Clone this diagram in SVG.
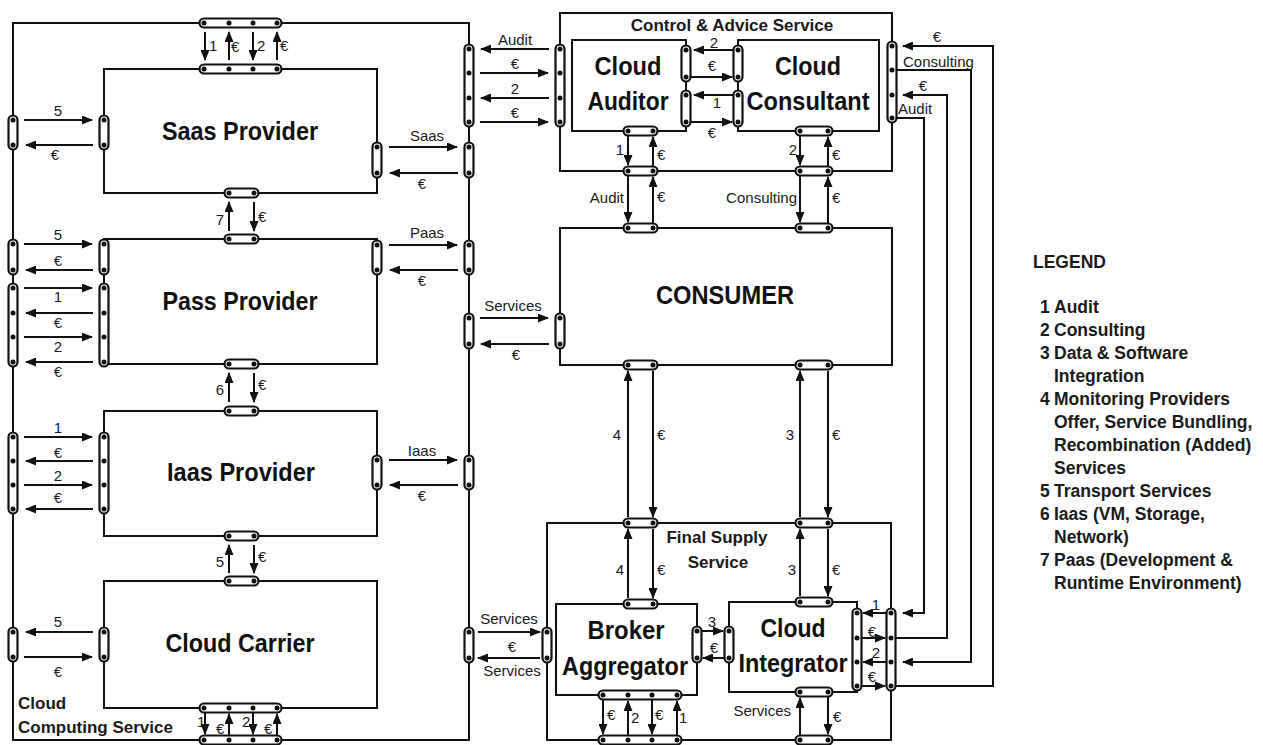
<svg xmlns="http://www.w3.org/2000/svg" width="1263" height="745" viewBox="0 0 1263 745">
<defs>
<marker id="ah" markerUnits="userSpaceOnUse" markerWidth="11" markerHeight="9" refX="10" refY="4.5" orient="auto">
<path d="M0,0 L11,4.5 L0,9 z" fill="#111"/>
</marker>
<style>
.box{fill:none;stroke:#111;stroke-width:2}
.pill{fill:#fff;stroke:#111;stroke-width:2.2}
.dot{fill:#111}
.ln{fill:none;stroke:#111;stroke-width:2}
.ar{fill:none;stroke:#111;stroke-width:2;marker-end:url(#ah)}
text{font-family:"Liberation Sans",Arial,sans-serif;fill:#1a1a1a}
.t{font-size:15px}
.m{text-anchor:middle}
.e{text-anchor:end}
.big{font-size:25px;font-weight:bold;text-anchor:middle;fill:#111}
.sec{font-size:17px;font-weight:bold}
.lg{font-size:17.5px;font-weight:bold}
</style>
</defs>
<rect width="1263" height="745" fill="#fff"/>

<g id="cloud-computing-service">
<rect class="box" x="13" y="23" width="456" height="717"/>
<text class="sec" x="18" y="709">Cloud</text>
<text class="sec" x="18" y="733">Computing Service</text>
<rect class="pill" x="199.5" y="18.5" width="82" height="9" rx="4.5"/>
<rect class="pill" x="199.5" y="735.5" width="82" height="9" rx="4.5"/>
<rect class="pill" x="8.5" y="115.5" width="9" height="34" rx="4.5"/>
<rect class="pill" x="8.5" y="239.5" width="9" height="35" rx="4.5"/>
<rect class="pill" x="8.5" y="283.5" width="9" height="83" rx="4.5"/>
<rect class="pill" x="8.5" y="432.5" width="9" height="81" rx="4.5"/>
<rect class="pill" x="8.5" y="627.5" width="9" height="34" rx="4.5"/>
<rect class="pill" x="464.5" y="44.5" width="9" height="82" rx="4.5"/>
<rect class="pill" x="464.5" y="142.5" width="9" height="35" rx="4.5"/>
<rect class="pill" x="464.5" y="240.5" width="9" height="34" rx="4.5"/>
<rect class="pill" x="464.5" y="313.5" width="9" height="35" rx="4.5"/>
<rect class="pill" x="464.5" y="455.5" width="9" height="34" rx="4.5"/>
<rect class="pill" x="464.5" y="627.5" width="9" height="35" rx="4.5"/>
<g class="dot">
<circle cx="204" cy="23" r="2.5"/><circle cx="229" cy="23" r="2.5"/><circle cx="253" cy="23" r="2.5"/><circle cx="277" cy="23" r="2.5"/>
<circle cx="204" cy="740" r="2.5"/><circle cx="229" cy="740" r="2.5"/><circle cx="253" cy="740" r="2.5"/><circle cx="277" cy="740" r="2.5"/>
<circle cx="13" cy="120" r="2.5"/><circle cx="13" cy="145" r="2.5"/>
<circle cx="13" cy="244" r="2.5"/><circle cx="13" cy="270" r="2.5"/>
<circle cx="13" cy="288" r="2.5"/><circle cx="13" cy="313" r="2.5"/><circle cx="13" cy="337" r="2.5"/><circle cx="13" cy="362" r="2.5"/>
<circle cx="13" cy="437" r="2.5"/><circle cx="13" cy="461" r="2.5"/><circle cx="13" cy="485" r="2.5"/><circle cx="13" cy="509" r="2.5"/>
<circle cx="13" cy="632" r="2.5"/><circle cx="13" cy="657" r="2.5"/>
<circle cx="469" cy="49" r="2.5"/><circle cx="469" cy="73" r="2.5"/><circle cx="469" cy="98" r="2.5"/><circle cx="469" cy="122" r="2.5"/>
<circle cx="469" cy="147" r="2.5"/><circle cx="469" cy="173" r="2.5"/>
<circle cx="469" cy="245" r="2.5"/><circle cx="469" cy="270" r="2.5"/>
<circle cx="469" cy="318" r="2.5"/><circle cx="469" cy="344" r="2.5"/>
<circle cx="469" cy="460" r="2.5"/><circle cx="469" cy="485" r="2.5"/>
<circle cx="469" cy="632" r="2.5"/><circle cx="469" cy="658" r="2.5"/>
</g>
</g>

<g id="saas-provider">
<rect class="box" x="104" y="69" width="273" height="124"/>
<text class="big" x="240" y="140" textLength="156" lengthAdjust="spacingAndGlyphs">Saas Provider</text>
<rect class="pill" x="199.5" y="64.5" width="82" height="9" rx="4.5"/>
<rect class="pill" x="99.5" y="115.5" width="9" height="34" rx="4.5"/>
<rect class="pill" x="372.5" y="142.5" width="9" height="35" rx="4.5"/>
<rect class="pill" x="224.5" y="188.5" width="34" height="9" rx="4.5"/>
<g class="dot">
<circle cx="204" cy="69" r="2.5"/><circle cx="229" cy="69" r="2.5"/><circle cx="253" cy="69" r="2.5"/><circle cx="277" cy="69" r="2.5"/>
<circle cx="104" cy="120" r="2.5"/><circle cx="104" cy="145" r="2.5"/>
<circle cx="377" cy="147" r="2.5"/><circle cx="377" cy="173" r="2.5"/>
<circle cx="229" cy="193" r="2.5"/><circle cx="254" cy="193" r="2.5"/>
</g>
</g>

<g id="pass-provider">
<rect class="box" x="104" y="239" width="273" height="125"/>
<text class="big" x="240" y="310" textLength="155" lengthAdjust="spacingAndGlyphs">Pass Provider</text>
<rect class="pill" x="224.5" y="234.5" width="34" height="9" rx="4.5"/>
<rect class="pill" x="99.5" y="239.5" width="9" height="35" rx="4.5"/>
<rect class="pill" x="99.5" y="283.5" width="9" height="83" rx="4.5"/>
<rect class="pill" x="372.5" y="240.5" width="9" height="34" rx="4.5"/>
<rect class="pill" x="224.5" y="359.5" width="34" height="9" rx="4.5"/>
<g class="dot">
<circle cx="229" cy="239" r="2.5"/><circle cx="254" cy="239" r="2.5"/>
<circle cx="104" cy="244" r="2.5"/><circle cx="104" cy="270" r="2.5"/>
<circle cx="104" cy="288" r="2.5"/><circle cx="104" cy="313" r="2.5"/><circle cx="104" cy="337" r="2.5"/><circle cx="104" cy="362" r="2.5"/>
<circle cx="377" cy="245" r="2.5"/><circle cx="377" cy="270" r="2.5"/>
<circle cx="229" cy="364" r="2.5"/><circle cx="254" cy="364" r="2.5"/>
</g>
</g>

<g id="iaas-provider">
<rect class="box" x="104" y="411" width="273" height="125"/>
<text class="big" x="241" y="481" textLength="148" lengthAdjust="spacingAndGlyphs">Iaas Provider</text>
<rect class="pill" x="224.5" y="406.5" width="34" height="9" rx="4.5"/>
<rect class="pill" x="99.5" y="432.5" width="9" height="81" rx="4.5"/>
<rect class="pill" x="372.5" y="455.5" width="9" height="34" rx="4.5"/>
<rect class="pill" x="224.5" y="531.5" width="34" height="9" rx="4.5"/>
<g class="dot">
<circle cx="229" cy="411" r="2.5"/><circle cx="254" cy="411" r="2.5"/>
<circle cx="104" cy="437" r="2.5"/><circle cx="104" cy="461" r="2.5"/><circle cx="104" cy="485" r="2.5"/><circle cx="104" cy="509" r="2.5"/>
<circle cx="377" cy="460" r="2.5"/><circle cx="377" cy="485" r="2.5"/>
<circle cx="229" cy="536" r="2.5"/><circle cx="254" cy="536" r="2.5"/>
</g>
</g>

<g id="cloud-carrier">
<rect class="box" x="104" y="581" width="273" height="127"/>
<text class="big" x="240" y="652" textLength="149" lengthAdjust="spacingAndGlyphs">Cloud Carrier</text>
<rect class="pill" x="224.5" y="576.5" width="34" height="9" rx="4.5"/>
<rect class="pill" x="99.5" y="627.5" width="9" height="34" rx="4.5"/>
<rect class="pill" x="199.5" y="703.5" width="82" height="9" rx="4.5"/>
<g class="dot">
<circle cx="229" cy="581" r="2.5"/><circle cx="254" cy="581" r="2.5"/>
<circle cx="104" cy="632" r="2.5"/><circle cx="104" cy="657" r="2.5"/>
<circle cx="204" cy="708" r="2.5"/><circle cx="229" cy="708" r="2.5"/><circle cx="253" cy="708" r="2.5"/><circle cx="277" cy="708" r="2.5"/>
</g>
</g>

<g id="control-advice-service">
<rect class="box" x="560" y="13" width="332" height="158"/>
<text class="sec" x="732" y="31" text-anchor="middle">Control &amp; Advice Service</text>
<rect class="pill" x="555.5" y="44.5" width="9" height="82" rx="4.5"/>
<rect class="pill" x="887.5" y="41.5" width="9" height="81" rx="4.5"/>
<rect class="pill" x="623.5" y="166.5" width="34" height="9" rx="4.5"/>
<rect class="pill" x="795.5" y="166.5" width="37" height="9" rx="4.5"/>
<g class="dot">
<circle cx="560" cy="49" r="2.5"/><circle cx="560" cy="73" r="2.5"/><circle cx="560" cy="98" r="2.5"/><circle cx="560" cy="122" r="2.5"/>
<circle cx="892" cy="46" r="2.5"/><circle cx="892" cy="70" r="2.5"/><circle cx="892" cy="95" r="2.5"/><circle cx="892" cy="118" r="2.5"/>
<circle cx="628" cy="171" r="2.5"/><circle cx="653" cy="171" r="2.5"/>
<circle cx="800" cy="171" r="2.5"/><circle cx="828" cy="171" r="2.5"/>
</g>
</g>

<g id="cloud-auditor">
<rect class="box" x="572" y="40" width="114" height="91"/>
<text class="big" x="628" y="75" textLength="67" lengthAdjust="spacingAndGlyphs">Cloud</text>
<text class="big" x="628" y="110" textLength="81" lengthAdjust="spacingAndGlyphs">Auditor</text>
<rect class="pill" x="681.5" y="45.5" width="9" height="36" rx="4.5"/>
<rect class="pill" x="681.5" y="90.5" width="9" height="36" rx="4.5"/>
<rect class="pill" x="623.5" y="126.5" width="34" height="9" rx="4.5"/>
<g class="dot">
<circle cx="686" cy="50" r="2.5"/><circle cx="686" cy="77" r="2.5"/><circle cx="686" cy="95" r="2.5"/><circle cx="686" cy="122" r="2.5"/>
<circle cx="628" cy="131" r="2.5"/><circle cx="653" cy="131" r="2.5"/>
</g>
</g>

<g id="cloud-consultant">
<rect class="box" x="738" y="40" width="141" height="91"/>
<text class="big" x="808" y="75" textLength="66" lengthAdjust="spacingAndGlyphs">Cloud</text>
<text class="big" x="808" y="110" textLength="123" lengthAdjust="spacingAndGlyphs">Consultant</text>
<rect class="pill" x="733.5" y="45.5" width="9" height="36" rx="4.5"/>
<rect class="pill" x="733.5" y="90.5" width="9" height="36" rx="4.5"/>
<rect class="pill" x="795.5" y="126.5" width="37" height="9" rx="4.5"/>
<g class="dot">
<circle cx="738" cy="50" r="2.5"/><circle cx="738" cy="77" r="2.5"/><circle cx="738" cy="95" r="2.5"/><circle cx="738" cy="122" r="2.5"/>
<circle cx="800" cy="131" r="2.5"/><circle cx="828" cy="131" r="2.5"/>
</g>
</g>

<g id="consumer">
<rect class="box" x="560" y="228" width="332" height="137"/>
<text class="big" x="725" y="304" textLength="138" lengthAdjust="spacingAndGlyphs">CONSUMER</text>
<rect class="pill" x="623.5" y="223.5" width="34" height="9" rx="4.5"/>
<rect class="pill" x="795.5" y="223.5" width="37" height="9" rx="4.5"/>
<rect class="pill" x="555.5" y="313.5" width="9" height="35" rx="4.5"/>
<rect class="pill" x="623.5" y="360.5" width="34" height="9" rx="4.5"/>
<rect class="pill" x="795.5" y="360.5" width="37" height="9" rx="4.5"/>
<g class="dot">
<circle cx="628" cy="228" r="2.5"/><circle cx="653" cy="228" r="2.5"/>
<circle cx="800" cy="228" r="2.5"/><circle cx="828" cy="228" r="2.5"/>
<circle cx="560" cy="318" r="2.5"/><circle cx="560" cy="344" r="2.5"/>
<circle cx="628" cy="365" r="2.5"/><circle cx="653" cy="365" r="2.5"/>
<circle cx="800" cy="365" r="2.5"/><circle cx="828" cy="365" r="2.5"/>
</g>
</g>

<g id="final-supply-service">
<rect class="box" x="547" y="523" width="344" height="217"/>
<text class="sec" x="717" y="543" text-anchor="middle">Final Supply</text>
<text class="sec" x="718" y="568" text-anchor="middle">Service</text>
<rect class="pill" x="623.5" y="518.5" width="34" height="9" rx="4.5"/>
<rect class="pill" x="795.5" y="518.5" width="37" height="9" rx="4.5"/>
<rect class="pill" x="542.5" y="627.5" width="9" height="35" rx="4.5"/>
<rect class="pill" x="886.5" y="608.5" width="9" height="82" rx="4.5"/>
<rect class="pill" x="598.5" y="735.5" width="83" height="9" rx="4.5"/>
<rect class="pill" x="795.5" y="735.5" width="37" height="9" rx="4.5"/>
<g class="dot">
<circle cx="628" cy="523" r="2.5"/><circle cx="653" cy="523" r="2.5"/>
<circle cx="800" cy="523" r="2.5"/><circle cx="828" cy="523" r="2.5"/>
<circle cx="547" cy="632" r="2.5"/><circle cx="547" cy="658" r="2.5"/>
<circle cx="891" cy="613" r="2.5"/><circle cx="891" cy="638" r="2.5"/><circle cx="891" cy="662" r="2.5"/><circle cx="891" cy="686" r="2.5"/>
<circle cx="603" cy="740" r="2.5"/><circle cx="628" cy="740" r="2.5"/><circle cx="652" cy="740" r="2.5"/><circle cx="677" cy="740" r="2.5"/>
<circle cx="800" cy="740" r="2.5"/><circle cx="828" cy="740" r="2.5"/>
</g>
</g>

<g id="broker-aggregator">
<rect class="box" x="556" y="604" width="141" height="91"/>
<text class="big" x="626" y="639" textLength="77" lengthAdjust="spacingAndGlyphs">Broker</text>
<text class="big" x="625" y="675" textLength="126" lengthAdjust="spacingAndGlyphs">Aggregator</text>
<rect class="pill" x="623.5" y="599.5" width="34" height="9" rx="4.5"/>
<rect class="pill" x="692.5" y="626.5" width="9" height="36" rx="4.5"/>
<rect class="pill" x="598.5" y="690.5" width="83" height="9" rx="4.5"/>
<g class="dot">
<circle cx="628" cy="604" r="2.5"/><circle cx="653" cy="604" r="2.5"/>
<circle cx="697" cy="631" r="2.5"/><circle cx="697" cy="658" r="2.5"/>
<circle cx="603" cy="695" r="2.5"/><circle cx="628" cy="695" r="2.5"/><circle cx="652" cy="695" r="2.5"/><circle cx="677" cy="695" r="2.5"/>
</g>
</g>

<g id="cloud-integrator">
<rect class="box" x="729" y="602" width="128" height="90"/>
<text class="big" x="793" y="637" textLength="65" lengthAdjust="spacingAndGlyphs">Cloud</text>
<text class="big" x="793" y="672" textLength="109" lengthAdjust="spacingAndGlyphs">Integrator</text>
<rect class="pill" x="795.5" y="597.5" width="37" height="9" rx="4.5"/>
<rect class="pill" x="724.5" y="626.5" width="9" height="36" rx="4.5"/>
<rect class="pill" x="852.5" y="608.5" width="9" height="82" rx="4.5"/>
<rect class="pill" x="795.5" y="687.5" width="37" height="9" rx="4.5"/>
<g class="dot">
<circle cx="800" cy="602" r="2.5"/><circle cx="828" cy="602" r="2.5"/>
<circle cx="729" cy="631" r="2.5"/><circle cx="729" cy="658" r="2.5"/>
<circle cx="857" cy="613" r="2.5"/><circle cx="857" cy="638" r="2.5"/><circle cx="857" cy="662" r="2.5"/><circle cx="857" cy="686" r="2.5"/>
<circle cx="800" cy="692" r="2.5"/><circle cx="828" cy="692" r="2.5"/>
</g>
</g>

<g id="connectors">
<path class="ar" d="M205,32 V60"/><path class="ar" d="M229,60 V32"/><path class="ar" d="M253,32 V60"/><path class="ar" d="M277,60 V32"/>
<path class="ar" d="M24,120 H92"/><path class="ar" d="M93,145 H26"/>
<path class="ar" d="M229,231 V202"/><path class="ar" d="M254,202 V231"/>
<path class="ar" d="M24,244 H92"/><path class="ar" d="M93,270 H26"/>
<path class="ar" d="M24,288 H92"/><path class="ar" d="M93,313 H26"/>
<path class="ar" d="M24,337 H92"/><path class="ar" d="M93,362 H26"/>
<path class="ar" d="M229,402 V373"/><path class="ar" d="M254,373 V402"/>
<path class="ar" d="M24,437 H92"/><path class="ar" d="M93,461 H26"/>
<path class="ar" d="M24,485 H92"/><path class="ar" d="M93,509 H26"/>
<path class="ar" d="M229,573 V545"/><path class="ar" d="M254,545 V573"/>
<path class="ar" d="M93,632 H26"/><path class="ar" d="M24,657 H92"/>
<path class="ar" d="M205,713 V734"/><path class="ar" d="M229,735 V714"/><path class="ar" d="M253,713 V734"/><path class="ar" d="M277,735 V714"/>
<path class="ar" d="M389,147 H457"/><path class="ar" d="M458,173 H390"/>
<path class="ar" d="M389,245 H457"/><path class="ar" d="M458,270 H390"/>
<path class="ar" d="M389,460 H457"/><path class="ar" d="M458,485 H390"/>
<path class="ar" d="M549,49 H481"/><path class="ar" d="M480,73 H548"/><path class="ar" d="M549,98 H481"/><path class="ar" d="M480,122 H548"/>
<path class="ar" d="M480,318 H548"/><path class="ar" d="M549,344 H481"/>
<path class="ar" d="M478,632 H540"/><path class="ar" d="M540,658 H478"/>
<path class="ar" d="M733,50 H694"/><path class="ar" d="M690,77 H732"/><path class="ar" d="M733,95 H694"/><path class="ar" d="M690,122 H732"/>
<path class="ar" d="M628,136 V165"/><path class="ar" d="M653,166 V137"/>
<path class="ar" d="M628,176 V222"/><path class="ar" d="M653,223 V177"/>
<path class="ar" d="M800,136 V165"/><path class="ar" d="M828,166 V137"/>
<path class="ar" d="M800,176 V222"/><path class="ar" d="M828,223 V177"/>
<path class="ar" d="M628,517 V371"/><path class="ar" d="M653,371 V517"/>
<path class="ar" d="M800,517 V371"/><path class="ar" d="M828,371 V517"/>
<path class="ar" d="M628,598 V529"/><path class="ar" d="M653,529 V598"/>
<path class="ar" d="M800,596 V529"/><path class="ar" d="M828,529 V596"/>
<path class="ar" d="M702,631 H723"/><path class="ar" d="M724,658 H703"/>
<path class="ar" d="M886,613 H863"/><path class="ar" d="M862,638 H885"/><path class="ar" d="M886,662 H863"/><path class="ar" d="M862,686 H885"/>
<path class="ar" d="M897,118 H924 V613 H903"/>
<path class="ar" d="M896,638 H947 V95 H903"/>
<path class="ar" d="M897,70 H971 V662 H903"/>
<path class="ar" d="M896,686 H993 V46 H903"/>
<path class="ar" d="M603,700 V734"/><path class="ar" d="M628,735 V701"/><path class="ar" d="M652,700 V734"/><path class="ar" d="M677,735 V701"/>
<path class="ar" d="M800,735 V698"/><path class="ar" d="M828,697 V734"/>

<g class="t">
<text x="209" y="51">1</text><text x="231" y="52">€</text><text x="257" y="51">2</text><text x="280" y="51">€</text>
<text class="m" x="58" y="116">5</text><text class="m" x="55" y="160">€</text>
<text class="e" x="224" y="225">7</text><text x="258" y="222">€</text>
<text class="m" x="58" y="240">5</text><text class="m" x="58" y="266">€</text>
<text class="m" x="58" y="302">1</text><text class="m" x="58" y="328">€</text>
<text class="m" x="58" y="352">2</text><text class="m" x="58" y="377">€</text>
<text class="e" x="224" y="395">6</text><text x="258" y="390">€</text>
<text class="m" x="58" y="433">1</text><text class="m" x="58" y="458">€</text>
<text class="m" x="58" y="481">2</text><text class="m" x="58" y="503">€</text>
<text class="e" x="224" y="567">5</text><text x="258" y="562">€</text>
<text class="m" x="58" y="627">5</text><text class="m" x="58" y="677">€</text>
<text x="197" y="727">1</text><text x="216" y="734">€</text><text x="242" y="727">2</text><text x="264" y="734">€</text>
<text class="m" x="427" y="141">Saas</text><text class="m" x="422" y="189">€</text>
<text class="m" x="427" y="238">Paas</text><text class="m" x="422" y="286">€</text>
<text class="m" x="422" y="456">Iaas</text><text class="m" x="422" y="501">€</text>
<text class="m" x="515" y="45">Audit</text><text class="m" x="515" y="69">€</text>
<text class="m" x="515" y="94">2</text><text class="m" x="515" y="118">€</text>
<text class="m" x="513" y="311">Services</text><text class="m" x="516" y="360">€</text>
<text class="m" x="509" y="624">Services</text><text class="m" x="512" y="652">€</text><text class="m" x="512" y="676">Services</text>
<text class="m" x="714" y="48">2</text><text class="m" x="712" y="71">€</text>
<text class="m" x="717" y="108">1</text><text class="m" x="712" y="138">€</text>
<text class="e" x="624" y="155">1</text><text x="657" y="160">€</text>
<text class="e" x="624" y="203">Audit</text><text x="657" y="202">€</text>
<text class="e" x="797" y="155">2</text><text x="832" y="160">€</text>
<text class="e" x="797" y="203">Consulting</text><text x="832" y="203">€</text>
<text class="e" x="621" y="440">4</text><text x="657" y="440">€</text>
<text class="e" x="794" y="440">3</text><text x="832" y="440">€</text>
<text class="e" x="624" y="575">4</text><text x="657" y="575">€</text>
<text class="e" x="796" y="575">3</text><text x="832" y="575">€</text>
<text class="m" x="712" y="627">3</text><text class="m" x="714" y="653">€</text>
<text class="m" x="876" y="610">1</text><text class="m" x="872" y="637">€</text>
<text class="m" x="876" y="658">2</text><text class="m" x="872" y="682">€</text>
<text class="m" x="937" y="42">€</text><text x="903" y="67">Consulting</text>
<text class="m" x="923" y="91">€</text><text x="898" y="114">Audit</text>
<text x="607" y="720">€</text><text x="631" y="723">2</text><text x="655" y="720">€</text><text x="679" y="723">1</text>
<text class="e" x="791" y="716">Services</text><text x="833" y="722">€</text>
</g>
</g>

<g id="legend" class="lg">
<text x="1033" y="268">LEGEND</text>
<text x="1040" y="313">1</text><text x="1054" y="313">Audit</text>
<text x="1040" y="336">2</text><text x="1054" y="336">Consulting</text>
<text x="1040" y="359">3</text><text x="1054" y="359">Data &amp; Software</text>
<text x="1054" y="382">Integration</text>
<text x="1040" y="405">4</text><text x="1054" y="405">Monitoring Providers</text>
<text x="1054" y="428">Offer, Service Bundling,</text>
<text x="1054" y="451">Recombination (Added)</text>
<text x="1054" y="474">Services</text>
<text x="1040" y="497">5</text><text x="1054" y="497">Transport Services</text>
<text x="1040" y="520">6</text><text x="1054" y="520">Iaas (VM, Storage,</text>
<text x="1054" y="543">Network)</text>
<text x="1040" y="566">7</text><text x="1054" y="566">Paas (Development &amp;</text>
<text x="1054" y="589">Runtime Environment)</text>
</g>
</svg>
